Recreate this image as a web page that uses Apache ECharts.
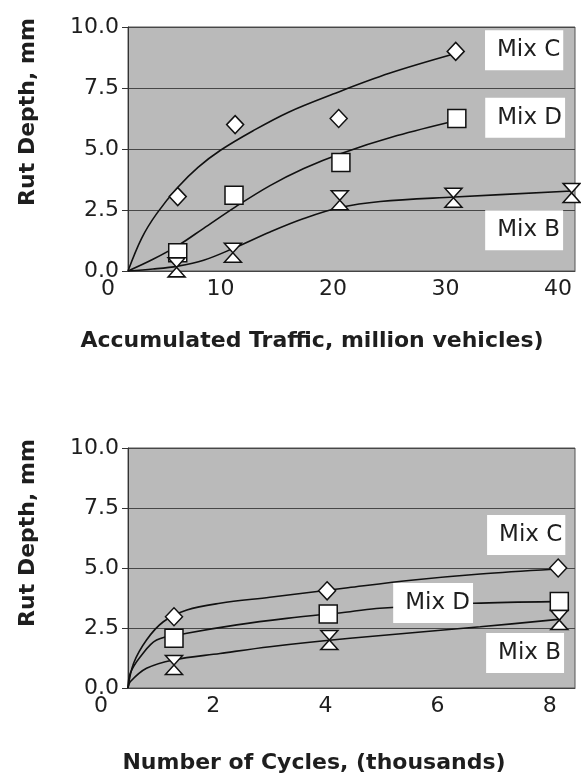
<!DOCTYPE html>
<html><head><meta charset="utf-8">
<script src="https://cdn.jsdelivr.net/npm/echarts@6/dist/echarts.min.js"></script>
<style>html,body{margin:0;padding:0;background:#fff}#c{width:581px;height:780px}</style>
</head><body><div id="c"></div>
<script>
// ---------- DATA ----------
const mixNames = ['Mix C', 'Mix D', 'Mix B'];
const topXTicks = [0, 10, 20, 30, 40];
const botXTicks = [0, 2, 4, 6, 8];

// Top chart: accumulated traffic (million vehicles) vs rut depth (mm)
const topPointsC = [[6.2, 3.05], [11.3, 6.0], [20.5, 6.25], [30.9, 9.0]];
const topPointsD = [[6.2, 0.75], [11.2, 3.1], [20.7, 4.45], [31.0, 6.25]];
const topPointsB = [[6.1, 0.15], [11.1, 0.75], [20.6, 2.9], [30.7, 3.0], [41.2, 3.2]];
const topCurveC = [[1.78, 0], [3.0, 1.35], [4.33, 2.35], [6.25, 3.45], [8.0, 4.25], [10.0, 4.95], [12.9, 5.75], [16.0, 6.5], [20.0, 7.25], [25.0, 8.1], [30.8, 8.9]];
const topCurveD = [[1.78, 0], [4.0, 0.48], [6.25, 1.05], [8.5, 1.75], [11.3, 2.62], [14.4, 3.5], [17.4, 4.2], [20.6, 4.8], [25.7, 5.55], [30.8, 6.15]];
const topCurveB = [[1.78, 0], [4.0, 0.08], [6.2, 0.2], [8.5, 0.44], [11.1, 0.92], [14.4, 1.6], [17.4, 2.15], [20.6, 2.6], [24.2, 2.85], [30.8, 3.03], [41.2, 3.28]];
const topLabelPos = [[36.98, 9.05], [37.07, 6.28], [36.98, 1.67]];

// Bottom chart: number of cycles (thousands) vs rut depth (mm)
const botPointsC = [[1.3, 2.97], [4.03, 4.05], [8.15, 5.0]];
const botPointsD = [[1.3, 2.07], [4.05, 3.08], [8.17, 3.6]];
const botPointsB = [[1.3, 0.96], [4.07, 2.0], [8.17, 2.83]];
const botCurveC = [[0.48, 0], [0.58, 1.03], [0.81, 2.0], [1.11, 2.76], [1.53, 3.25], [2.12, 3.53], [3.01, 3.78], [4.4, 4.18], [5.57, 4.5], [6.76, 4.75], [8.06, 4.95]];
const botCurveD = [[0.48, 0], [0.52, 0.61], [0.7, 1.3], [0.99, 2.0], [1.53, 2.28], [2.42, 2.63], [3.31, 2.9], [4.44, 3.18], [4.97, 3.32], [6.64, 3.53], [8.06, 3.6]];
const botCurveB = [[0.48, 0], [0.52, 0.26], [0.81, 0.82], [1.29, 1.17], [2.12, 1.44], [3.01, 1.72], [4.44, 2.07], [6.76, 2.55], [8.2, 2.87]];
const botLabelPos = [[7.58, 6.375], [5.92, 3.54], [7.56, 1.46]];

// ---------- STYLE ----------
const FONT = 'DejaVu Sans';
const TXT = '#1e1e1e';
const HOURGLASS = 'path://M0,0L20,0L0,22L20,22Z';
const symbols = ['diamond', 'rect', HOURGLASS];
const symbolSizes = [[17, 18], [18, 18], [17, 19]];

function gridAxes(gi, xmin, xmax, lblMin, ticks) {
  return {
    x: [
      { gridIndex: gi, type: 'value', min: xmin, max: xmax,
        axisLine: { show: true, lineStyle: { color: '#444', width: 1 } },
        axisTick: { show: false }, axisLabel: { show: false }, splitLine: { show: false } },
      { gridIndex: gi + 1, type: 'value', min: lblMin, max: xmax,
        axisLine: { show: false }, axisTick: { show: false }, splitLine: { show: false },
        axisLabel: { customValues: ticks, fontSize: 22, fontFamily: FONT, color: TXT, margin: 7 } }
    ],
    y: [
      { gridIndex: gi, type: 'value', min: 0, max: 10, interval: 2.5,
        axisLine: { show: true, lineStyle: { color: '#333', width: 1 } },
        axisTick: { show: true, length: 6, lineStyle: { color: '#333' } },
        axisLabel: { formatter: v => v.toFixed(1), fontSize: 22, fontFamily: FONT, color: TXT, margin: 9 },
        splitLine: { show: true, lineStyle: { color: '#474747', width: 1 } } },
      { gridIndex: gi + 1, type: 'value', min: 0, max: 10, show: false }
    ]
  };
}

const A = gridAxes(0, 1.78, 41.5, 0, topXTicks);
const B = gridAxes(2, 0.48, 8.45, 0, botXTicks);

function lineSeries(ax, data) {
  return { type: 'line', xAxisIndex: ax, yAxisIndex: ax, data: data, smooth: 0.35,
    showSymbol: false, symbol: 'none', lineStyle: { color: '#111', width: 1.6 }, z: 2, silent: true };
}
function pointSeries(ax, data, i) {
  return { type: 'scatter', xAxisIndex: ax, yAxisIndex: ax, data: data, symbol: symbols[i], symbolSize: symbolSizes[i],
    itemStyle: { color: '#fff', borderColor: '#111', borderWidth: 1.5, opacity: 1 }, z: 3, silent: true };
}
function labelSeries(ax, pos) {
  return { type: 'scatter', xAxisIndex: ax, yAxisIndex: ax, symbolSize: 1, z: 5, silent: true,
    itemStyle: { color: 'rgba(0,0,0,0)', opacity: 1 },
    label: { show: true, position: 'inside', formatter: '{b}', backgroundColor: '#fff', padding: [3, 3, 14, 12],
      fontSize: 23, fontFamily: FONT, color: TXT, opacity: 1 },
    data: pos.map((p, i) => ({ name: mixNames[i], value: p })) };
}

const option = {
  animation: false,
  backgroundColor: '#fff',
  grid: [
    { left: 128, right: 6, top: 27, height: 244, show: true, backgroundColor: '#bababa', borderColor: '#555', borderWidth: 1 },
    { left: 108, right: 6, top: 27, height: 244, show: false },
    { left: 128, right: 6, top: 448, height: 240, show: true, backgroundColor: '#bababa', borderColor: '#555', borderWidth: 1 },
    { left: 101, right: 6, top: 448, height: 240, show: false }
  ],
  xAxis: A.x.concat(B.x),
  yAxis: A.y.concat(B.y),
  series: [
    lineSeries(0, topCurveC), lineSeries(0, topCurveD), lineSeries(0, topCurveB),
    pointSeries(0, topPointsC, 0), pointSeries(0, topPointsD, 1), pointSeries(0, topPointsB, 2),
    labelSeries(0, topLabelPos),
    lineSeries(2, botCurveC), lineSeries(2, botCurveD), lineSeries(2, botCurveB),
    pointSeries(2, botPointsC, 0), pointSeries(2, botPointsD, 1), pointSeries(2, botPointsB, 2),
    labelSeries(2, botLabelPos)
  ],
  graphic: [
    { type: 'text', x: 28, y: 112, rotation: Math.PI / 2,
      style: { text: 'Rut Depth, mm', fontSize: 22, fontWeight: 'bold', fontFamily: FONT, fill: TXT, align: 'center', verticalAlign: 'middle' } },
    { type: 'text', x: 28, y: 533, rotation: Math.PI / 2,
      style: { text: 'Rut Depth, mm', fontSize: 22, fontWeight: 'bold', fontFamily: FONT, fill: TXT, align: 'center', verticalAlign: 'middle' } },
    { type: 'text', x: 312, y: 341,
      style: { text: 'Accumulated Traffic, million vehicles)', fontSize: 22, fontWeight: 'bold', fontFamily: FONT, fill: TXT, align: 'center', verticalAlign: 'middle' } },
    { type: 'text', x: 314, y: 763,
      style: { text: 'Number of Cycles, (thousands)', fontSize: 22, fontWeight: 'bold', fontFamily: FONT, fill: TXT, align: 'center', verticalAlign: 'middle' } }
  ]
};

const chart = echarts.init(document.getElementById('c'), null, { renderer: 'canvas' });
chart.setOption(option);
</script></body></html>
